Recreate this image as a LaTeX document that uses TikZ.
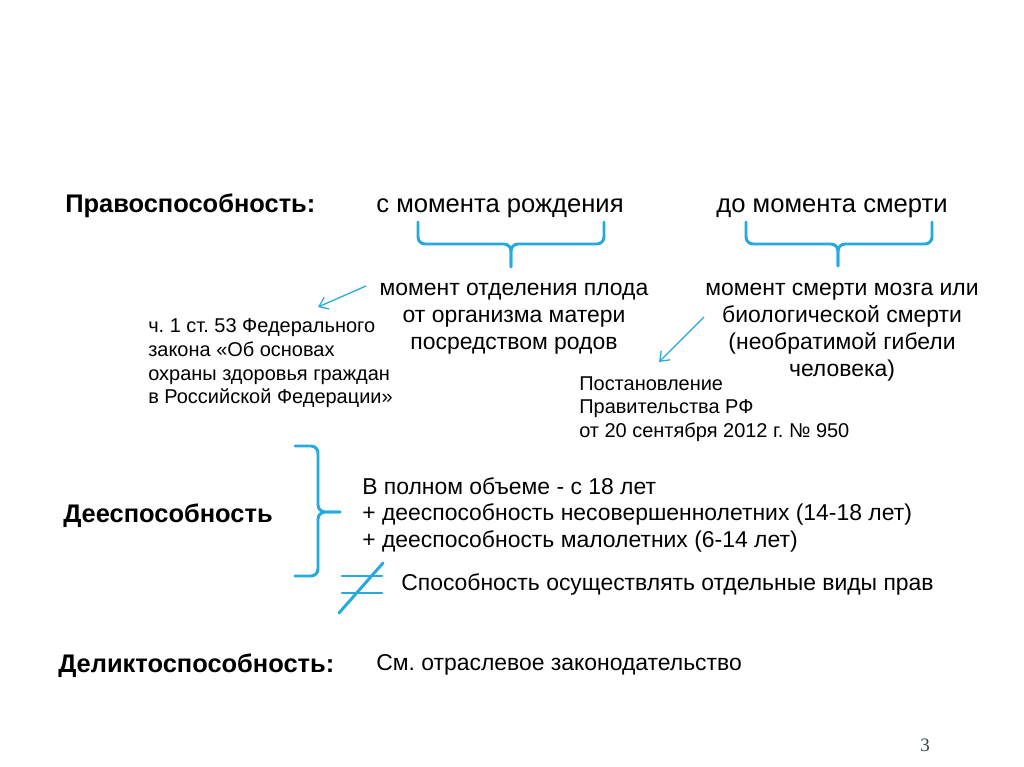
\documentclass[tikz,border=0pt]{standalone}
\usepackage{fontspec}
\setmainfont{Liberation Sans}
\newfontfamily\numfont{Liberation Serif}
\usetikzlibrary{arrows.meta}
\definecolor{lineblue}{RGB}{38,168,224}
\definecolor{numgray}{RGB}{50,64,86}
\frenchspacing
\begin{document}
\begin{tikzpicture}[x=0.025cm,y=-0.025cm,
	title/.style={font=\fontsize{18.1}{21}\selectfont\bfseries,inner sep=0,anchor=base west},
	head/.style={font=\fontsize{18.2}{21}\selectfont,inner sep=0,anchor=base},
	txt/.style={font=\fontsize{16.3}{19.1}\selectfont,inner sep=0},
	note/.style={font=\fontsize{14.2}{17}\selectfont,inner sep=0,align=left,anchor=north west,execute at begin node=\rule{0pt}{0.72em}},
	bracket/.style={draw=lineblue,line width=2.1pt,rounded corners=5,line cap=round},
	arr/.style={draw=lineblue,line width=0.9pt,-{Straight Barb[length=6pt,width=9pt]}}]
	\useasboundingbox (0,0) rectangle (1024,767);
	% Pravosposobnost
	\node[title] (pravo) at (65,213) {Правоспособность:};
	\node[head] (from) at (500,213) {с момента рождения};
	\node[head] (until) at (832,213) {до момента смерти};
	\draw[bracket] (418,222) |- (511,244) -- (511,267);
	\draw[bracket] (604,222) |- (511,244) -- (511,267);
	\draw[bracket] (746,222) |- (838,244) -- (838,266);
	\draw[bracket] (932,222) |- (838,244) -- (838,266);
	\node[txt,align=center,anchor=north,execute at begin node=\rule{0pt}{0.72em}] (birth) at (514,283)
		{момент отделения плода\\от организма матери\\посредством родов};
	\node[txt,align=center,anchor=north,execute at begin node=\rule{0pt}{0.72em}] (death) at (842,283)
		{момент смерти мозга или\\биологической смерти\\(необратимой гибели\\человека)};
	\node[note] (law) at (148,318)
		{ч. 1 ст. 53 Федерального\\закона «Об основах\\охраны здоровья граждан\\в Российской Федерации»};
	\node[note] (decree) at (579,376)
		{Постановление\\Правительства РФ\\от 20 сентября 2012 г. № 950};
	\coordinate (a1s) at (366,286); \coordinate (a1e) at (318,307);
	\coordinate (a2s) at (704,317); \coordinate (a2e) at (659,362);
	\draw[arr] (a1s) -- (a1e);
	\draw[arr] (a2s) -- (a2e);
	% Deesposobnost
	\node[title] (dee) at (63,522) {Дееспособность};
	\draw[bracket] (295,446) -| (318,512) -- (340,512);
	\draw[bracket] (295,576) -| (318,512) -- (340,512);
	\node[txt,align=left,anchor=north west,execute at begin node=\rule{0pt}{0.72em}] (full) at (362,477)
		{В полном объеме - с 18 лет\\+ дееспособность несовершеннолетних (14-18 лет)\\+ дееспособность малолетних (6-14 лет)};
	\draw[bracket,rounded corners=0] (342,576) -- (382,576);
	\draw[bracket,rounded corners=0] (342,593) -- (382,593);
	\draw[bracket,rounded corners=0] (339,613) -- (383,563);
	\node[txt,anchor=base west] (ability) at (401,590) {Способность осуществлять отдельные виды прав};
	% Deliktosposobnost
	\node[title] (delikt) at (58,672) {Деликтоспособность:};
	\node[txt,anchor=base west] (branch) at (376,670) {См. отраслевое законодательство};
	\node[font=\numfont\fontsize{13.5}{16}\selectfont,text=numgray,inner sep=0] (page) at (925,745) {3};
\end{tikzpicture}
\end{document}
